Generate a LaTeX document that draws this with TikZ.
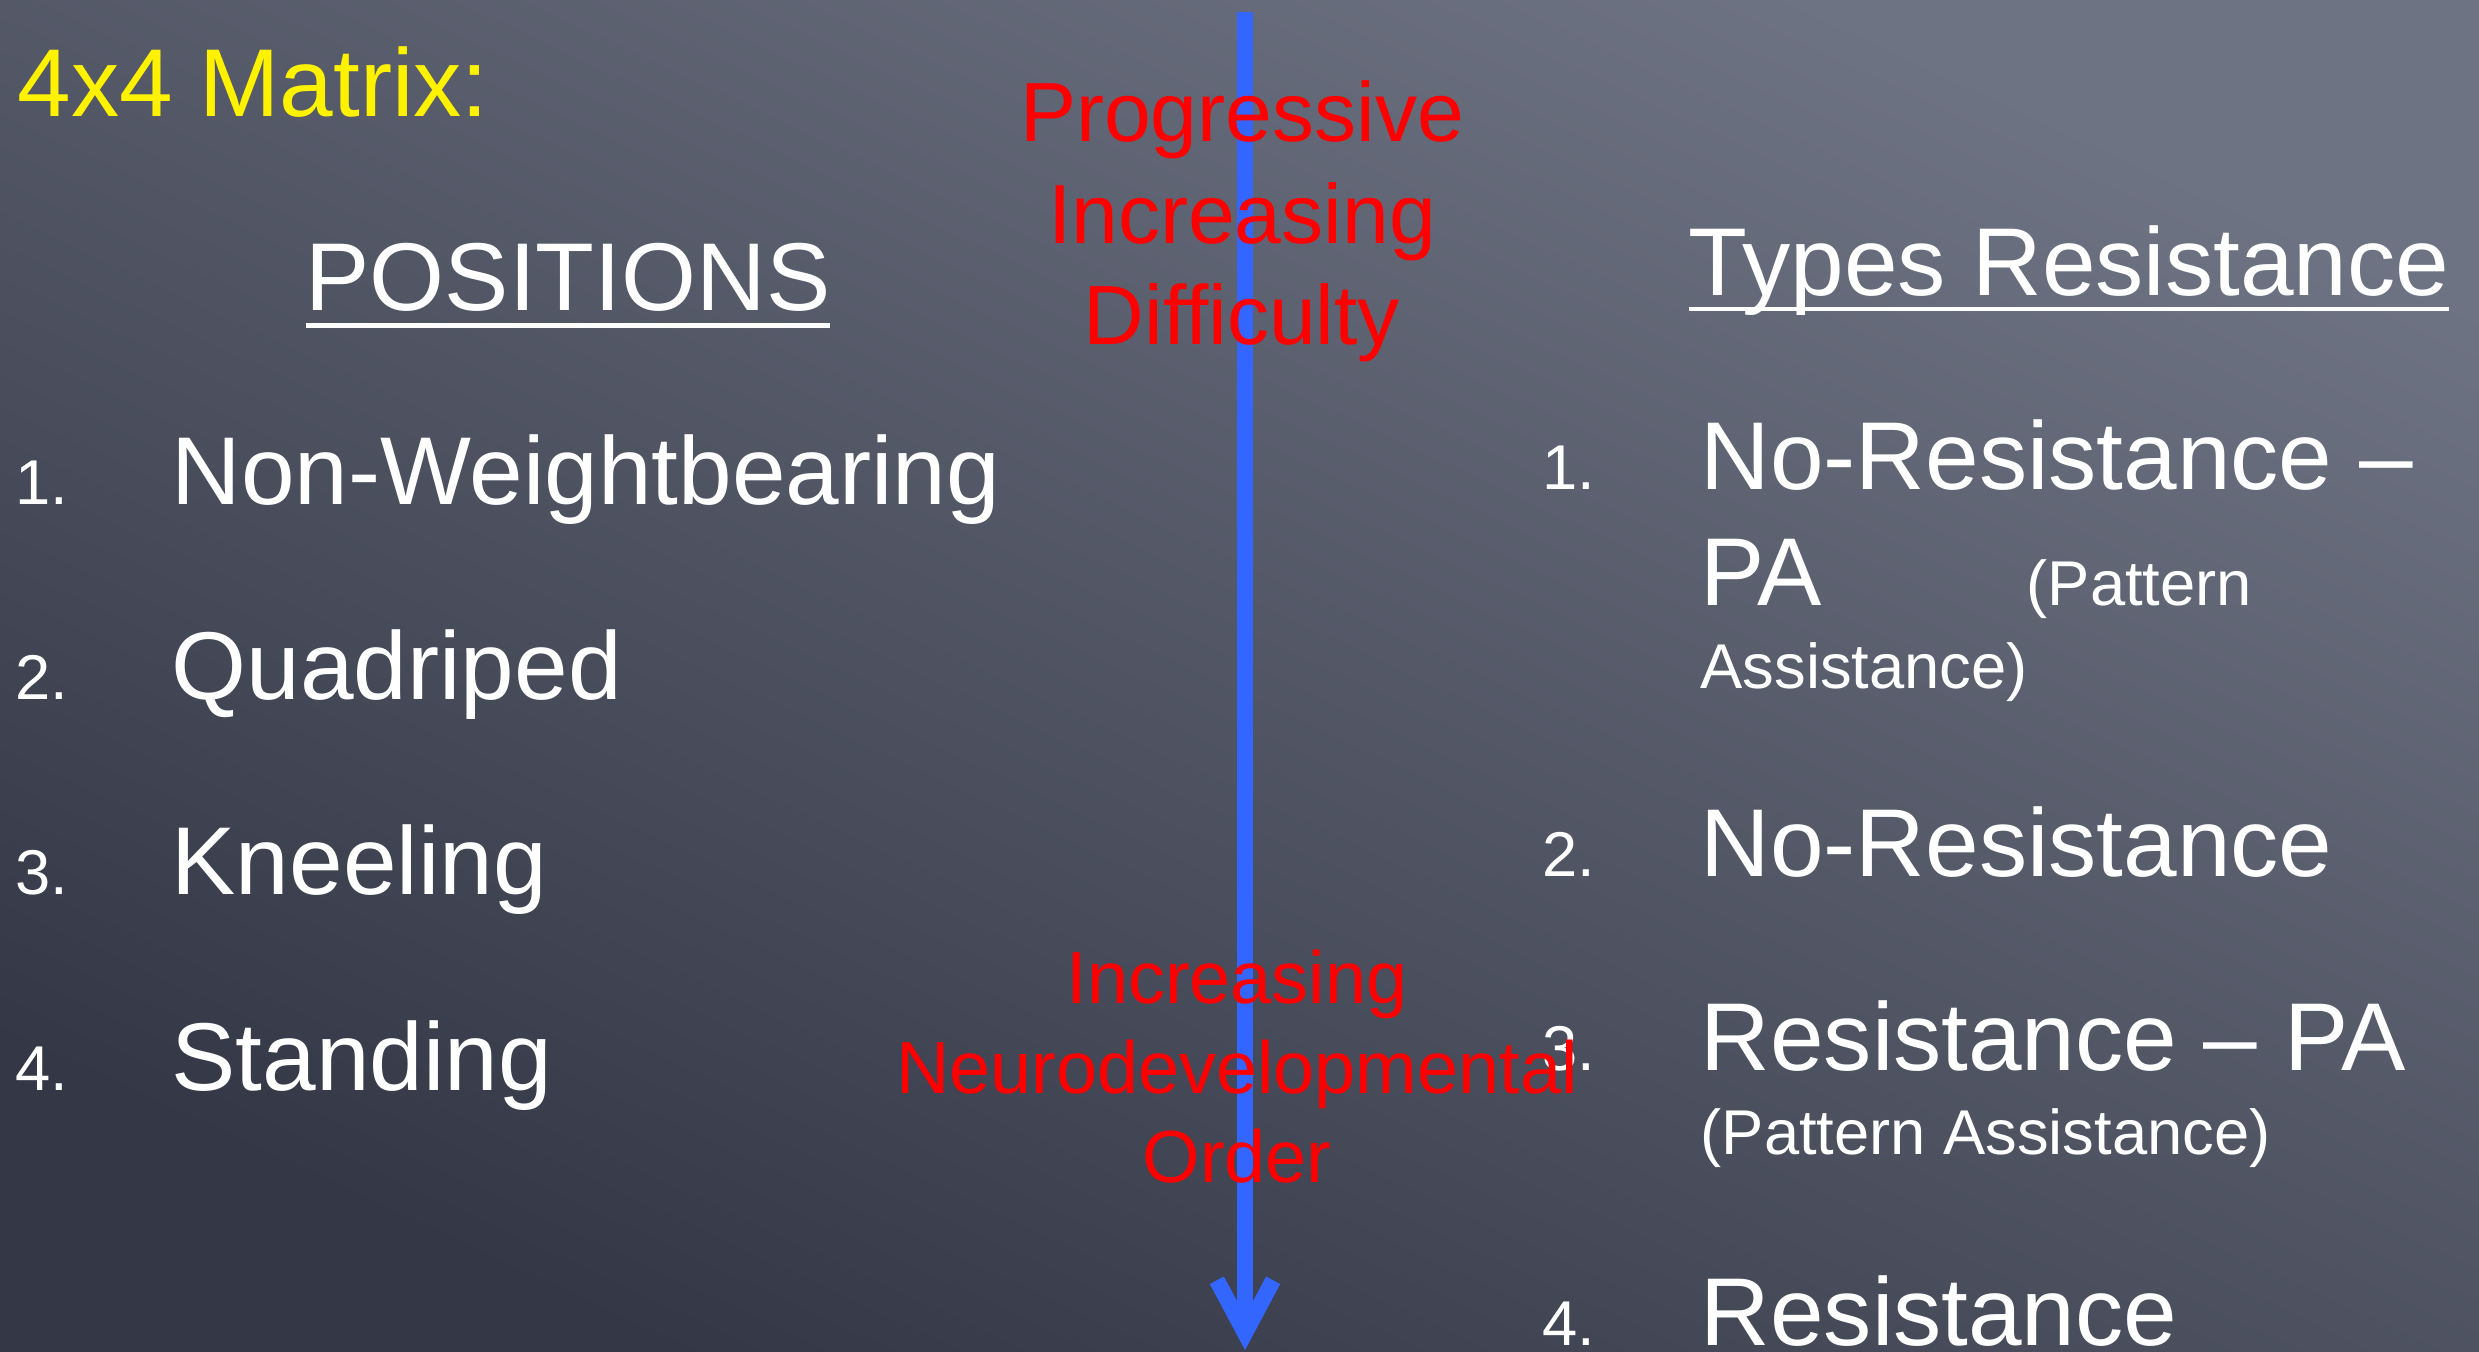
\documentclass[tikz,border=0pt]{standalone}
\usepackage{fontspec}
\setmainfont{Liberation Sans}
\usetikzlibrary{arrows.meta}

\definecolor{boardtop}{RGB}{110,115,131}
\definecolor{boardmid}{RGB}{86,91,106}
\definecolor{boardbot}{RGB}{52,56,70}
\definecolor{chalkblue}{RGB}{51,102,255}

% text with a rule under it, #1 = depth of the rule
\newcommand{\chalkline}[2]{\setbox0\hbox{#2}\rlap{\rule[-#1]{\wd0}{1.3pt}}\box0}

\begin{document}
\begin{tikzpicture}[x=0.01cm, y=-0.01cm,
  big/.style={font=\fontsize{27.4}{32}\selectfont, text=white, inner sep=0pt, anchor=base west},
  small/.style={font=\fontsize{18}{21}\selectfont, text=white, inner sep=0pt, anchor=base west},
  redtop/.style={font=\fontsize{23.9}{28}\selectfont, text=red, inner sep=0pt, anchor=base},
  redbot/.style={font=\fontsize{21}{25}\selectfont, text=red, inner sep=0pt, anchor=base}]

% board
\shade [top color=boardtop, middle color=boardmid, bottom color=boardbot, shading angle=-25]
  (0,0) rectangle (2479,1351);
\useasboundingbox (0,0) rectangle (2479,1351);

\node (title) [big, text=yellow] at (17,116) {4x4 Matrix:};

% positions
\begin {scope}
  \node (poshead) [big] at (305,310) {\chalkline{5pt}{POSITIONS}};
  \node (n1) [small] at (15,504) {1.};
  \node (p1) [big] at (171,504) {Non-Weightbearing};
  \node (n2) [small] at (15,699) {2.};
  \node (p2) [big] at (171,699) {Quadriped};
  \node (n3) [small] at (15,894) {3.};
  \node (p3) [big] at (171,894) {Kneeling};
  \node (n4) [small] at (15,1090) {4.};
  \node (p4) [big] at (171,1090) {Standing};
\end {scope}

% resistance types
\begin {scope}
  \node (typehead) [big] at (1688,295) {\chalkline{4.6pt}{Types Resistance}};
  \node (m1) [small] at (1542,489) {1.};
  \node (r1a) [big] at (1700,489) {No-Resistance –};
  \node (r1b) [big] at (1700,605) {PA};
  \node (r1c) [small] at (2026,605) {(Pattern};
  \node (r1d) [small] at (1700,688) {Assistance)};
  \node (m2) [small] at (1542,876) {2.};
  \node (r2) [big] at (1700,876) {No-Resistance};
  \node (m3) [small] at (1542,1070) {3.};
  \node (r3a) [big] at (1700,1070) {Resistance – PA};
  \node (r3b) [small] at (1700,1154) {(Pattern Assistance)};
  \node (m4) [small] at (1542,1345) {4.};
  \node (r4) [big] at (1700,1345) {Resistance};
\end {scope}

% arrow down the middle
\coordinate (arrtop) at (1245,12);
\coordinate (arrtip) at (1245,1350);
\draw [chalkblue, line width=4.55pt, -{Straight Barb[length=15pt, width=16pt]}] (arrtop) -- (arrtip);

\node (prog1) [redtop] at (1242,141) {Progressive};
\node (prog2) [redtop] at (1242,243) {Increasing};
\node (prog3) [redtop] at (1242,344) {Difficulty};

\node (neuro1) [redbot] at (1237,1003) {Increasing};
\node (neuro2) [redbot] at (1237,1093) {Neurodevelopmental};
\node (neuro3) [redbot] at (1237,1182) {Order};
\end{tikzpicture}
\end{document}
